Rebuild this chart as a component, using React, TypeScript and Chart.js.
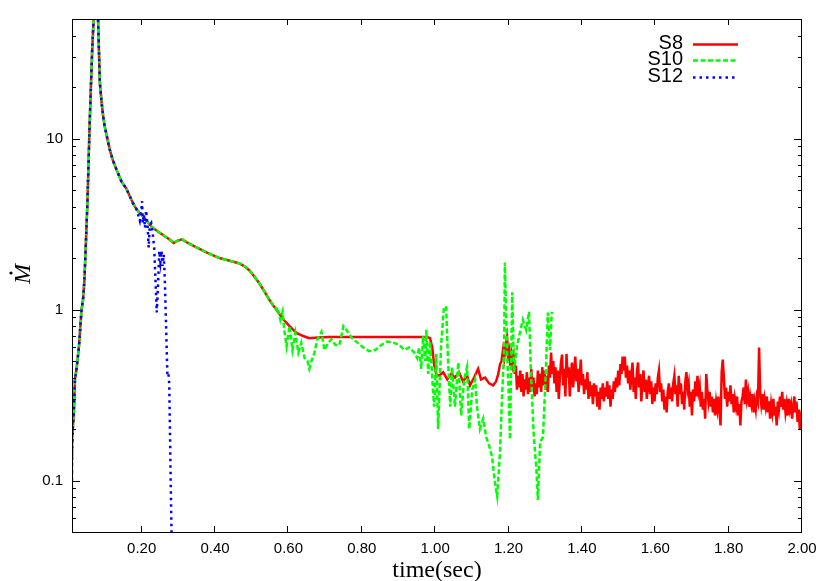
import React, { useEffect, useRef } from "react";
import { Chart, registerables } from "chart.js";

Chart.register(...registerables);

// ---------- data ----------
const SERIES_NAMES = ["S8", "S10", "S12"];
const SERIES_COLORS = ["#ff0000", "#00ff00", "#0000ff"];

const X_TICKS = [0.2, 0.4, 0.6, 0.8, 1.0, 1.2, 1.4, 1.6, 1.8, 2.0];
const Y_MAJOR = [0.1, 1, 10];
const Y_MINOR = [0.06, 0.07, 0.08, 0.09, 0.2, 0.3, 0.4, 0.5, 0.6, 0.7, 0.8, 0.9, 2, 3, 4, 5, 6, 7, 8, 9, 20, 30, 40];

// start points (time, Mdot)
const S8_START: [number, number][] = [[0.0098, 0.17]];
const S10_START: [number, number][] = [[0.0095, 0.08]];
const S12_START: [number, number][] = [[0.0097, 0.13]];

// shared early evolution (all three models)
const EARLY: [number, number][] = [
  [0.012, 0.2], [0.015, 0.25], [0.018, 0.39], [0.023, 0.46], [0.029, 0.61], [0.036, 1.0],
  [0.040, 1.14], [0.044, 1.5], [0.052, 4.2], [0.055, 7.0], [0.058, 12], [0.065, 33],
  [0.069, 50], [0.072, 90], [0.078, 90], [0.081, 50], [0.086, 21], [0.091, 16],
  [0.095, 13.5], [0.099, 11.8], [0.105, 10.3], [0.113, 8.6], [0.121, 7.5], [0.131, 6.6],
  [0.145, 5.6], [0.158, 5.1], [0.176, 4.2], [0.186, 3.85],
];

// shared by S8 and S10
const MID: [number, number][] = [
  [0.195, 3.65], [0.204, 3.5], [0.216, 3.25], [0.228, 3.03], [0.245, 2.85], [0.263, 2.68],
  [0.277, 2.56], [0.287, 2.45], [0.298, 2.53], [0.310, 2.57], [0.326, 2.45], [0.344, 2.34],
  [0.378, 2.15], [0.412, 2.0], [0.440, 1.93], [0.467, 1.86], [0.482, 1.78], [0.494, 1.69],
  [0.508, 1.55], [0.521, 1.42], [0.535, 1.27], [0.548, 1.14], [0.558, 1.06],
];

const S8_TAIL: [number, number][] = [
  [0.567, 1.0], [0.585, 0.88], [0.603, 0.8], [0.622, 0.73], [0.640, 0.70], [0.657, 0.68],
  [0.680, 0.685], [0.712, 0.69], [0.800, 0.69], [0.900, 0.69], [0.978, 0.69], [0.986, 0.68],
  [0.992, 0.60], [0.997, 0.48], [1.003, 0.42], [1.011, 0.41], [1.022, 0.43], [1.033, 0.39],
  [1.044, 0.42], [1.054, 0.40], [1.065, 0.43], [1.076, 0.38], [1.087, 0.41], [1.095, 0.36],
  [1.106, 0.40], [1.117, 0.45], [1.125, 0.39], [1.136, 0.40], [1.147, 0.37], [1.158, 0.36],
  [1.166, 0.38], [1.172, 0.42],
  [1.177, 0.48], [1.181, 0.50], [1.185, 0.58], [1.188, 0.52], [1.192, 0.62], [1.196, 0.69],
  [1.199, 0.50], [1.202, 0.56], [1.205, 0.47], [1.208, 0.55], [1.211, 0.48], [1.214, 0.53],
  [1.217, 0.42], [1.220, 0.47], [1.223, 0.34], [1.226, 0.41], [1.229, 0.35], [1.232, 0.44],
  [1.235, 0.33], [1.238, 0.42], [1.241, 0.31], [1.244, 0.39], [1.247, 0.34], [1.250, 0.43],
  [1.253, 0.32], [1.256, 0.40], [1.259, 0.33], [1.262, 0.45], [1.265, 0.35], [1.268, 0.40],
  [1.271, 0.31], [1.274, 0.37], [1.277, 0.32], [1.280, 0.44], [1.283, 0.35], [1.286, 0.42],
  [1.289, 0.33], [1.292, 0.46], [1.295, 0.36], [1.298, 0.44], [1.301, 0.34], [1.304, 0.41],
  [1.307, 0.33], [1.310, 0.47], [1.313, 0.40], [1.316, 0.56], [1.319, 0.42], [1.322, 0.50],
  [1.325, 0.37], [1.328, 0.46], [1.331, 0.33], [1.334, 0.44], [1.337, 0.30], [1.340, 0.40],
  [1.343, 0.49], [1.346, 0.545], [1.349, 0.36], [1.352, 0.45], [1.355, 0.31], [1.358, 0.55],
  [1.361, 0.40], [1.364, 0.46], [1.367, 0.31], [1.370, 0.42], [1.373, 0.49], [1.376, 0.35],
  [1.379, 0.43], [1.382, 0.53], [1.385, 0.38], [1.388, 0.45], [1.391, 0.33], [1.394, 0.40],
  [1.397, 0.51], [1.400, 0.36], [1.403, 0.42], [1.406, 0.32], [1.409, 0.39], [1.412, 0.34],
  [1.415, 0.43], [1.418, 0.30], [1.421, 0.38], [1.424, 0.31], [1.427, 0.36], [1.430, 0.28],
  [1.433, 0.37], [1.436, 0.31], [1.439, 0.36], [1.442, 0.27], [1.445, 0.33], [1.448, 0.26],
  [1.451, 0.35], [1.454, 0.30], [1.457, 0.37], [1.460, 0.29], [1.463, 0.35], [1.466, 0.31],
  [1.469, 0.38], [1.472, 0.30], [1.475, 0.36], [1.478, 0.27], [1.481, 0.34], [1.484, 0.30],
  [1.487, 0.38], [1.490, 0.33], [1.493, 0.40], [1.496, 0.35], [1.499, 0.44], [1.502, 0.36],
  [1.505, 0.48], [1.508, 0.42], [1.511, 0.53], [1.514, 0.44], [1.517, 0.53], [1.520, 0.40],
  [1.523, 0.47], [1.526, 0.37], [1.529, 0.44], [1.532, 0.34], [1.535, 0.42], [1.538, 0.49],
  [1.541, 0.33], [1.544, 0.40], [1.547, 0.30], [1.550, 0.43], [1.553, 0.49], [1.556, 0.35],
  [1.559, 0.42], [1.562, 0.29], [1.565, 0.38], [1.568, 0.44], [1.571, 0.33], [1.574, 0.39],
  [1.577, 0.30], [1.580, 0.36], [1.583, 0.41], [1.586, 0.32], [1.589, 0.38], [1.592, 0.28],
  [1.595, 0.35], [1.598, 0.29], [1.601, 0.37], [1.604, 0.32], [1.607, 0.40], [1.610, 0.44],
  [1.613, 0.33], [1.616, 0.37], [1.619, 0.29], [1.622, 0.34], [1.625, 0.26], [1.628, 0.31],
  [1.631, 0.25], [1.634, 0.33], [1.637, 0.37], [1.640, 0.30], [1.643, 0.35], [1.646, 0.29],
  [1.649, 0.37], [1.652, 0.41], [1.655, 0.32], [1.658, 0.36], [1.661, 0.27], [1.664, 0.41],
  [1.667, 0.32], [1.670, 0.37], [1.673, 0.28], [1.676, 0.33], [1.679, 0.26], [1.682, 0.38],
  [1.685, 0.43], [1.688, 0.34], [1.691, 0.37], [1.694, 0.27], [1.697, 0.33], [1.700, 0.24],
  [1.703, 0.34], [1.706, 0.29], [1.709, 0.38], [1.712, 0.31], [1.715, 0.41], [1.718, 0.33],
  [1.721, 0.36], [1.724, 0.27], [1.727, 0.33], [1.730, 0.26], [1.733, 0.30], [1.736, 0.23],
  [1.739, 0.42], [1.742, 0.34], [1.745, 0.29], [1.748, 0.33], [1.751, 0.27], [1.754, 0.31],
  [1.757, 0.25], [1.760, 0.30], [1.763, 0.24], [1.766, 0.29], [1.769, 0.26], [1.772, 0.31],
  [1.775, 0.25], [1.778, 0.21], [1.781, 0.43], [1.784, 0.51], [1.787, 0.40], [1.790, 0.30],
  [1.793, 0.35], [1.796, 0.27], [1.799, 0.33], [1.802, 0.29], [1.805, 0.36], [1.808, 0.28],
  [1.811, 0.32], [1.814, 0.25], [1.817, 0.30], [1.820, 0.27], [1.823, 0.31], [1.826, 0.24],
  [1.829, 0.28], [1.832, 0.21], [1.835, 0.29], [1.838, 0.31], [1.841, 0.35], [1.844, 0.28],
  [1.847, 0.39], [1.850, 0.30], [1.853, 0.33], [1.856, 0.27], [1.859, 0.31], [1.862, 0.28],
  [1.865, 0.32], [1.868, 0.25], [1.871, 0.29], [1.874, 0.26], [1.877, 0.31], [1.880, 0.29],
  [1.883, 0.60], [1.886, 0.33], [1.889, 0.28], [1.892, 0.32], [1.895, 0.26], [1.898, 0.30],
  [1.901, 0.27], [1.904, 0.31], [1.907, 0.25], [1.910, 0.29], [1.913, 0.23], [1.916, 0.28],
  [1.919, 0.25], [1.922, 0.30], [1.925, 0.24], [1.928, 0.27], [1.931, 0.21], [1.934, 0.29],
  [1.937, 0.26], [1.940, 0.31], [1.943, 0.27], [1.946, 0.33], [1.949, 0.26], [1.952, 0.30],
  [1.955, 0.25], [1.958, 0.28], [1.961, 0.24], [1.964, 0.30], [1.967, 0.26], [1.970, 0.28],
  [1.973, 0.23], [1.976, 0.27], [1.979, 0.31], [1.982, 0.25], [1.985, 0.29], [1.988, 0.22],
  [1.991, 0.26], [1.994, 0.20], [1.997, 0.23], [2.000, 0.21],
];

const S10_TAIL: [number, number][] = [
  [0.567, 1.0], [0.570, 1.03], [0.578, 0.87], [0.584, 0.97], [0.589, 0.75], [0.595, 0.61],
  [0.603, 0.8], [0.611, 0.58], [0.619, 0.73], [0.627, 0.56], [0.635, 0.64], [0.644, 0.52],
  [0.652, 0.5], [0.657, 0.45], [0.663, 0.5], [0.671, 0.56], [0.679, 0.67], [0.690, 0.74],
  [0.698, 0.58], [0.709, 0.64], [0.717, 0.67], [0.728, 0.62], [0.739, 0.62], [0.750, 0.8],
  [0.758, 0.76], [0.771, 0.69], [0.788, 0.64], [0.804, 0.6], [0.820, 0.57], [0.837, 0.58],
  [0.853, 0.62], [0.869, 0.65], [0.886, 0.64], [0.902, 0.62], [0.916, 0.58], [0.929, 0.6],
  [0.943, 0.56], [0.951, 0.52], [0.956, 0.6], [0.962, 0.45], [0.967, 0.7], [0.973, 0.5],
  [0.976, 0.76], [0.981, 0.42], [0.986, 0.65], [0.992, 0.4], [0.997, 0.27], [1.003, 0.55],
  [1.008, 0.2], [1.016, 0.61], [1.024, 1.04], [1.030, 1.03], [1.035, 0.51], [1.041, 0.27],
  [1.046, 0.46], [1.054, 0.27], [1.063, 0.49], [1.071, 0.24], [1.079, 0.39], [1.087, 0.46],
  [1.093, 0.2], [1.101, 0.34], [1.109, 0.39], [1.114, 0.27], [1.122, 0.2], [1.131, 0.23],
  [1.139, 0.18], [1.147, 0.16], [1.155, 0.138], [1.163, 0.097], [1.169, 0.081], [1.177, 0.15],
  [1.182, 0.30], [1.188, 0.58], [1.190, 1.88], [1.196, 0.58], [1.201, 0.30], [1.204, 0.174],
  [1.210, 1.26], [1.215, 0.43], [1.223, 0.61], [1.231, 0.73], [1.239, 0.87], [1.248, 0.76],
  [1.256, 0.97], [1.261, 0.43], [1.269, 0.18], [1.276, 0.116], [1.280, 0.077], [1.286, 0.167],
  [1.294, 0.18], [1.302, 0.45], [1.307, 0.96], [1.313, 0.58], [1.318, 0.97],
];

const S12_TAIL: [number, number][] = [
  [0.190, 3.6], [0.195, 3.3], [0.198, 3.6], [0.201, 4.3], [0.203, 3.2], [0.206, 3.6],
  [0.209, 3.0], [0.212, 3.8], [0.216, 3.1], [0.219, 2.3], [0.222, 3.1], [0.226, 3.2],
  [0.230, 2.8], [0.234, 2.3], [0.237, 1.6], [0.241, 0.96], [0.244, 1.3], [0.248, 2.2],
  [0.251, 1.9], [0.254, 2.2], [0.257, 1.8], [0.260, 2.1], [0.263, 1.5], [0.266, 0.87],
  [0.270, 0.41], [0.273, 0.42], [0.275, 0.37], [0.277, 0.2], [0.279, 0.1], [0.282, 0.04],
];

// ---------- helpers ----------
const SANS = '"Liberation Sans", Arial, Helvetica, sans-serif';
const SERIF = '"Liberation Serif", "Times New Roman", serif';

const toPoints = (...parts: [number, number][][]) =>
  parts.flat().map(([t, m]) => ({ x: t, y: m }));

const framePlugin = {
  id: "gnuplotFrame",
  afterDraw(chart: any) {
    const { ctx, chartArea: a, scales } = chart;
    const xs = scales.x;
    const ys = scales.y;
    ctx.save();
    ctx.strokeStyle = "#000";
    ctx.lineWidth = 1;
    ctx.setLineDash([]);
    // frame
    ctx.strokeRect(a.left + 0.5, a.top + 0.5, a.right - a.left - 1, a.bottom - a.top);
    // x ticks, inward, bottom + top
    ctx.beginPath();
    X_TICKS.forEach((v) => {
      const p = Math.round(xs.getPixelForValue(v)) - 0.5;
      ctx.moveTo(p, a.bottom);
      ctx.lineTo(p, a.bottom - 6);
      ctx.moveTo(p, a.top);
      ctx.lineTo(p, a.top + 6);
    });
    // y ticks, inward, left + right
    const yTick = (v: number, len: number) => {
      const p = Math.round(ys.getPixelForValue(v)) + 0.5;
      ctx.moveTo(a.left, p);
      ctx.lineTo(a.left + len, p);
      ctx.moveTo(a.right, p);
      ctx.lineTo(a.right - len, p);
    };
    Y_MAJOR.forEach((v) => yTick(v, 8));
    Y_MINOR.forEach((v) => yTick(v, 4));
    ctx.stroke();

    // legend (inside, top right)
    const rowY = [43, 59, 76];
    ctx.font = `20px ${SANS}`;
    ctx.fillStyle = "#000";
    ctx.textAlign = "right";
    ctx.textBaseline = "middle";
    chart.data.datasets.forEach((ds: any, i: number) => {
      ctx.fillText(SERIES_NAMES[i], 683, rowY[i]);
      ctx.beginPath();
      ctx.strokeStyle = ds.borderColor;
      ctx.lineWidth = ds.borderWidth;
      ctx.setLineDash(ds.borderDash || []);
      ctx.moveTo(693, rowY[i] + 1.5);
      ctx.lineTo(738, rowY[i] + 1.5);
      ctx.stroke();
    });
    ctx.setLineDash([]);

    // axis titles
    ctx.fillStyle = "#000";
    ctx.font = `24px ${SERIF}`;
    ctx.textAlign = "center";
    ctx.textBaseline = "alphabetic";
    ctx.fillText("time(sec)", (a.left + a.right) / 2, 577);

    ctx.save();
    ctx.translate(30, 274);
    ctx.rotate(-Math.PI / 2);
    ctx.font = `italic 24px ${SERIF}`;
    ctx.textAlign = "center";
    ctx.fillText("M", 0, 0);
    ctx.beginPath();
    ctx.arc(1, -19, 1.6, 0, Math.PI * 2);
    ctx.fill();
    ctx.restore();

    ctx.restore();
  },
};

export default function App() {
  const ref = useRef<HTMLCanvasElement | null>(null);

  useEffect(() => {
    document.body.style.margin = "0";
    document.body.style.background = "#fff";
    const canvas = ref.current;
    if (!canvas) return;
    const chart = new Chart(canvas, {
      type: "line",
      data: {
        datasets: [
          {
            label: SERIES_NAMES[0],
            data: toPoints(S8_START, EARLY, MID, S8_TAIL),
            borderColor: SERIES_COLORS[0],
            borderWidth: 2.5,
            pointRadius: 0,
            tension: 0,
            order: 2,
          },
          {
            label: SERIES_NAMES[1],
            data: toPoints(S10_START, EARLY, MID, S10_TAIL),
            borderColor: SERIES_COLORS[1],
            borderWidth: 2.5,
            borderDash: [5, 2.5],
            pointRadius: 0,
            tension: 0,
            order: 1,
          },
          {
            label: SERIES_NAMES[2],
            data: toPoints(S12_START, EARLY, S12_TAIL),
            borderColor: SERIES_COLORS[2],
            borderWidth: 2.5,
            borderDash: [2.5, 4],
            pointRadius: 0,
            tension: 0,
            order: 0,
          },
        ],
      },
      options: {
        animation: false,
        responsive: false,
        devicePixelRatio: 1,
        events: [],
        layout: { padding: { left: 0, top: 19, right: 28, bottom: 0 } },
        plugins: { legend: { display: false }, tooltip: { enabled: false }, title: { display: false } },
        scales: {
          x: {
            type: "linear",
            min: 0.01,
            max: 2.0,
            grid: { display: false, drawTicks: false },
            border: { display: false },
            afterBuildTicks: (s: any) => {
              s.ticks = X_TICKS.map((v) => ({ value: v }));
            },
            afterFit: (s: any) => {
              s.height = 49;
            },
            ticks: {
              autoSkip: false,
              maxRotation: 0,
              padding: 8,
              color: "#000",
              font: { family: SANS, size: 15 },
              callback: (v: any) => Number(v).toFixed(2),
            },
          },
          y: {
            type: "logarithmic",
            min: 0.05,
            max: 50,
            grid: { display: false, drawTicks: false },
            border: { display: false },
            afterBuildTicks: (s: any) => {
              s.ticks = [...Y_MINOR, ...Y_MAJOR].sort((a, b) => a - b).map((v) => ({ value: v }));
            },
            afterFit: (s: any) => {
              s.width = 72;
            },
            ticks: {
              autoSkip: false,
              padding: 9,
              color: "#000",
              font: { family: SANS, size: 15 },
              callback: (v: any) => (Y_MAJOR.includes(Number(v)) ? String(v) : ""),
            },
          },
        },
      },
      plugins: [framePlugin],
    } as any);
    return () => chart.destroy();
  }, []);

  return <canvas ref={ref} width={830} height={581} style={{ display: "block" }} />;
}
